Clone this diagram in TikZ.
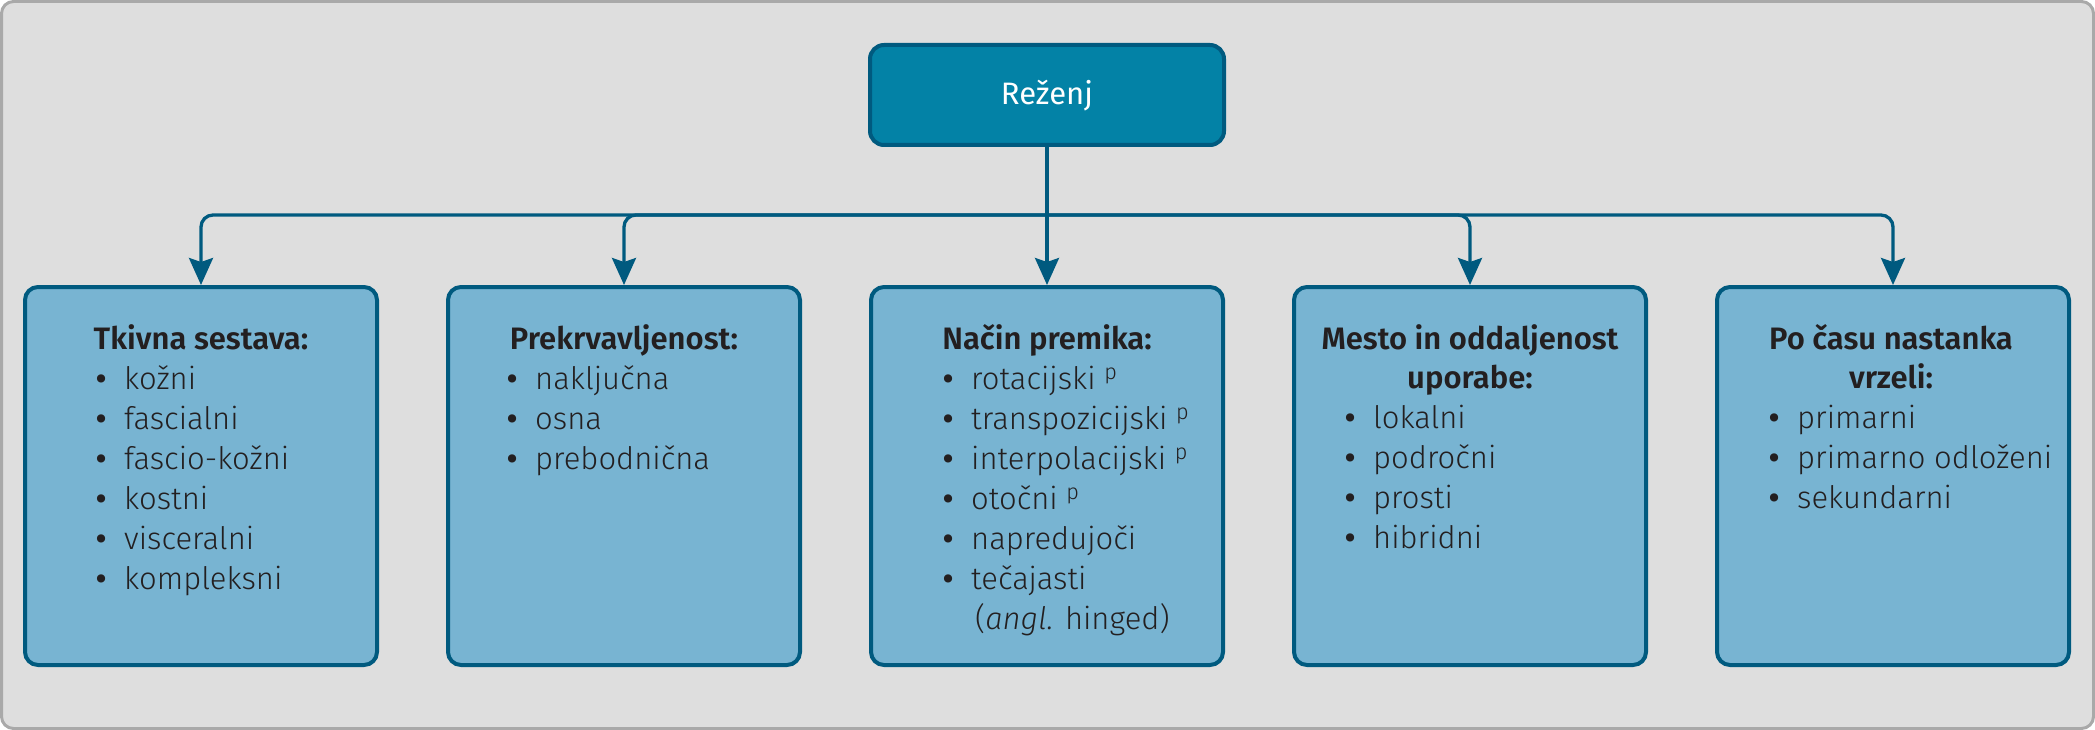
\documentclass[tikz,border=0pt]{standalone}
\usepackage{fontspec}
\setmainfont{Fira Sans Light}[BoldFont={Fira Sans SemiBold}, ItalicFont={Fira Sans Light Italic}]
\newfontfamily\regfont{Fira Sans}
\usetikzlibrary{arrows.meta}
\definecolor{framefill}{HTML}{DEDEDE}
\definecolor{framedraw}{HTML}{A9A9A9}
\definecolor{topfill}{HTML}{0382A6}
\definecolor{dark}{HTML}{005A7F}
\definecolor{boxfill}{HTML}{78B4D2}
\definecolor{txt}{HTML}{231F20}
\newcommand\bul{\llap{\makebox[46pt][c]{\bfseries •}}}
\begin{document}
\begin{tikzpicture}[x=1pt,y=-1pt,
 frame/.style={draw=framedraw, fill=framefill, line width=3pt, rounded corners=12pt},
 topbox/.style={draw=dark, fill=topfill, line width=4pt, rounded corners=14pt, minimum width=354pt, minimum height=100pt, inner sep=0pt},
 catbox/.style={draw=dark, fill=boxfill, line width=4pt, rounded corners=13pt, minimum width=352pt, minimum height=378pt, inner sep=0pt},
 conn/.style={draw=dark, line width=3.3pt, -{Stealth[length=27pt,width=24pt,inset=4pt]}, rounded corners=12pt},
 ttl/.style={anchor=base, inner sep=0pt, font=\fontsize{31}{40}\selectfont\bfseries, text=txt},
 itm/.style={anchor=base west, inner sep=0pt, font=\fontsize{31}{40}\selectfont, text=txt},
]
\useasboundingbox (0,0) rectangle (2095,730);
\draw[frame] (1.5,1.5) rectangle (2093.5,728.5);

\node[topbox] (top) at (1047,95) {};
\node[anchor=base, inner sep=0pt, text=white, font=\regfont\fontsize{31}{40}\selectfont] (toplabel) at (1047,105) {Reženj};

\node[catbox] (b1) at (201,476) {};
\node[catbox] (b2) at (624,476) {};
\node[catbox] (b3) at (1047,476) {};
\node[catbox] (b4) at (1470,476) {};
\node[catbox] (b5) at (1893,476) {};

\coordinate (hub) at (1047,215);
\draw[conn] (top.south) -- (b3.north);
\draw[conn] (hub) -| (b1.north);
\draw[conn] (hub) -| (b2.north);
\draw[conn] (hub) -| (b4.north);
\draw[conn] (hub) -| (b5.north);

% box 1
\node[ttl] (t1) at (201,349) {Tkivna sestava:};
\foreach \t [count=\i from 0] in {kožni, fascialni, fascio-kožni, kostni, visceralni, kompleksni}
  \node[itm] (a\i) at (124,{389+40*\i}) {\bul\t};

% box 2
\node[ttl] (t2) at (624,349) {Prekrvavljenost:};
\foreach \t [count=\i from 0] in {naključna, osna, prebodnična}
  \node[itm] (c\i) at (535,{389+40*\i}) {\bul\t};

% box 3
\node[ttl] (t3) at (1047,349) {Način premika:};
\foreach \t [count=\i from 0] in {rotacijski \textsuperscript{p}, transpozicijski \textsuperscript{p}, interpolacijski \textsuperscript{p}, otočni \textsuperscript{p}, napredujoči, tečajasti}
  \node[itm] (d\i) at (971,{389+40*\i}) {\bul\t};
\node[itm] (d6) at (975,629) {(\textit{angl.} hinged)};

% box 4
\node[ttl] (t4a) at (1470,349) {Mesto in oddaljenost};
\node[ttl] (t4b) at (1470,388) {uporabe:};
\foreach \t [count=\i from 0] in {lokalni, področni, prosti, hibridni}
  \node[itm] (e\i) at (1373,{428+40*\i}) {\bul\t};

% box 5
\node[ttl] (t5a) at (1891,349) {Po času nastanka};
\node[ttl] (t5b) at (1891,388) {vrzeli:};
\foreach \t [count=\i from 0] in {primarni, primarno odloženi, sekundarni}
  \node[itm] (f\i) at (1797,{428+40*\i}) {\bul\t};
\end{tikzpicture}
\end{document}
